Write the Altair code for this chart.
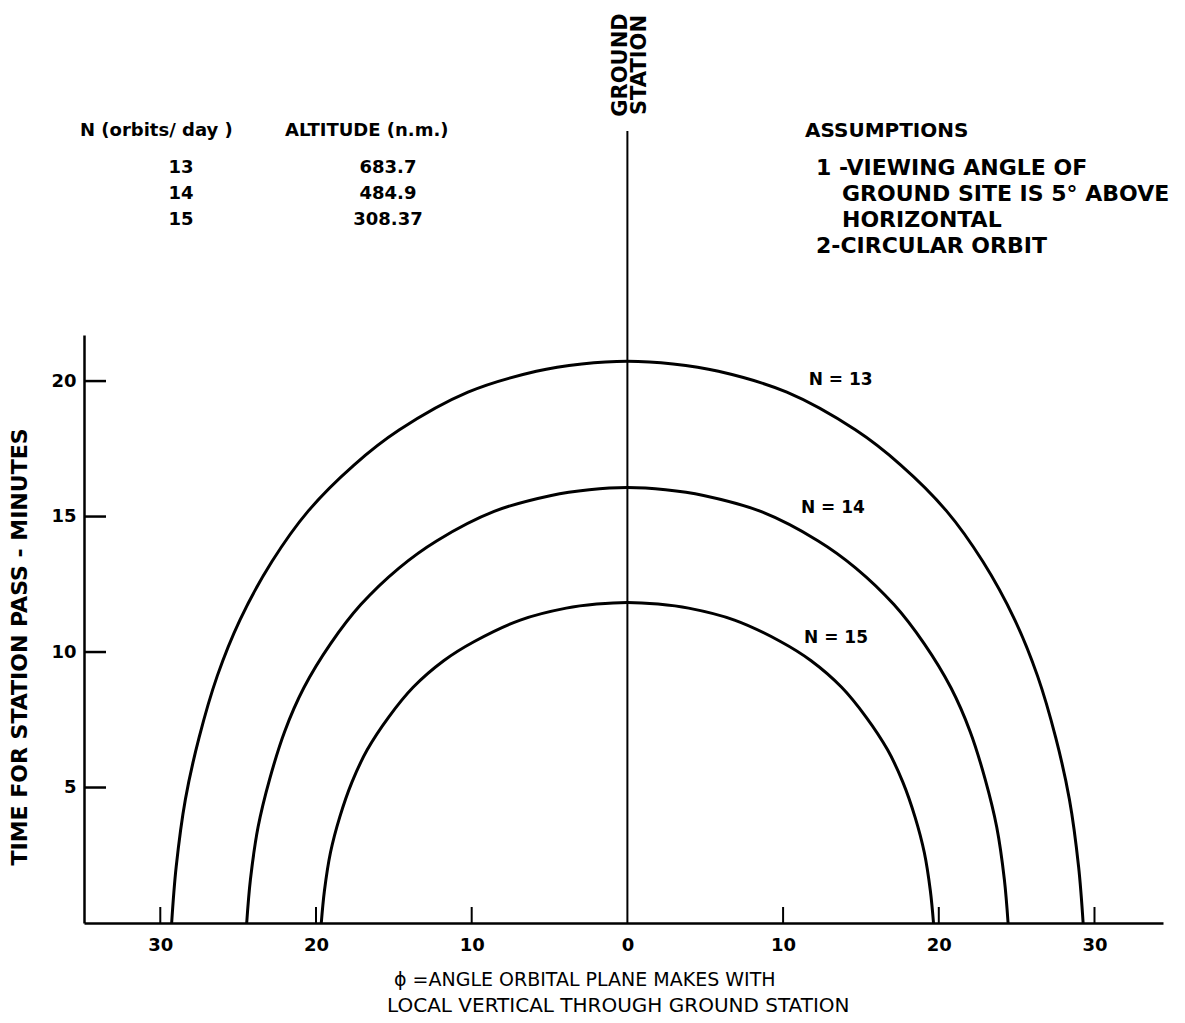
import altair as alt
import pandas as pd

# ---- data (phi in degrees, time in minutes) ----
n13_x = [-29.27, -28.98, -28.39, -27.51, -26.34, -24.88, -22.83, -20.49, -17.56, -14.64, -10.24, -5.85, -2.93, 0,
         2.93, 5.85, 10.24, 14.64, 17.56, 20.49, 22.83, 24.88, 26.34, 27.51, 28.39, 28.98, 29.27]
n13_y = [0, 2.07, 4.56, 6.84, 9.12, 11.19, 13.34, 15.21, 16.9, 18.2, 19.59, 20.36, 20.63, 20.73,
         20.63, 20.36, 19.59, 18.2, 16.9, 15.21, 13.34, 11.19, 9.12, 6.84, 4.56, 2.07, 0]

n14_x = [-24.45, -24.21, -23.72, -22.98, -22.01, -20.78, -19.07, -17.12, -14.67, -12.23, -8.56, -4.89, -2.45, 0,
         2.45, 4.89, 8.56, 12.23, 14.67, 17.12, 19.07, 20.78, 22.01, 22.98, 23.72, 24.21, 24.45]
n14_y = [0, 1.61, 3.54, 5.3, 7.07, 8.68, 10.3, 11.75, 13.1, 14.11, 15.19, 15.78, 15.99, 16.07,
         15.99, 15.78, 15.19, 14.11, 13.1, 11.75, 10.3, 8.68, 7.07, 5.3, 3.54, 1.61, 0]

n15_x = [-19.66, -19.46, -19.07, -18.48, -17.69, -16.71, -15.33, -13.76, -11.8, -9.83, -6.88, -3.93, -1.97, 0,
         1.97, 3.93, 6.88, 9.83, 11.8, 13.76, 15.33, 16.71, 17.69, 18.48, 19.07, 19.46, 19.66]
n15_y = [0, 1.18, 2.6, 3.9, 5.2, 6.39, 7.6, 8.7, 9.68, 10.39, 11.18, 11.62, 11.77, 11.83,
         11.77, 11.62, 11.18, 10.39, 9.68, 8.7, 7.6, 6.39, 5.2, 3.9, 2.6, 1.18, 0]

x_ticks = [-30, -20, -10, 10, 20, 30]
x_labels = [-30, -20, -10, 0, 10, 20, 30]
y_ticks = [5, 10, 15, 20]

curve_labels = ["N = 13", "N = 14", "N = 15"]
curve_label_x = [13.7, 13.2, 13.4]
curve_label_y = [20.05, 15.3, 10.5]

table_n = ["13", "14", "15"]
table_alt = ["683.7", "484.9", "308.37"]
assumptions = ["1 -VIEWING ANGLE OF", "GROUND SITE IS 5\u00b0 ABOVE", "HORIZONTAL", "2-CIRCULAR ORBIT"]

# ---- layout ----
W, H = 1079, 588
PL, PT = 84, 335
FONT = "DejaVu Sans"

rows = []
for name, xs, ys in [("13", n13_x, n13_y), ("14", n14_x, n14_y), ("15", n15_x, n15_y)]:
    for i, (a, b) in enumerate(zip(xs, ys)):
        rows.append({"series": name, "i": i, "x": a, "y": b})
curves_df = pd.DataFrame(rows)

xscale = alt.Scale(domain=[-34.9, 34.4], nice=False, zero=False)
yscale = alt.Scale(domain=[0, 21.7], nice=False)

curves = alt.Chart(curves_df).mark_line(color="black", strokeWidth=3, interpolate="catmull-rom").encode(
    x=alt.X("x:Q", scale=xscale, axis=alt.Axis(
        values=x_labels, labelExpr="abs(datum.value)", ticks=False, grid=False,
        domainColor="black", domainWidth=2.5, labelFont=FONT, labelFontSize=18,
        labelFontWeight="bold", labelColor="black", labelPadding=13, title=None)),
    y=alt.Y("y:Q", scale=yscale, axis=alt.Axis(
        values=y_ticks, ticks=False, grid=False, domainColor="black", domainWidth=2.5,
        labelFont=FONT, labelFontSize=18, labelFontWeight="bold", labelColor="black",
        labelPadding=8, title=None)),
    detail="series:N",
    order="i:Q",
)

ytick_rules = alt.Chart(pd.DataFrame({"v": y_ticks})).mark_rule(color="black", strokeWidth=2.5).encode(
    y=alt.Y("v:Q", scale=yscale), x=alt.value(0), x2=alt.value(22))

xtick_rules = alt.Chart(pd.DataFrame({"v": x_ticks})).mark_rule(color="black", strokeWidth=2).encode(
    x=alt.X("v:Q", scale=xscale), y=alt.value(H), y2=alt.value(H - 16))

station = alt.Chart(pd.DataFrame({"v": [0]})).mark_rule(color="black", strokeWidth=2).encode(
    x=alt.X("v:Q", scale=xscale), y=alt.value(131 - PT), y2=alt.value(H))

clabels = alt.Chart(pd.DataFrame({"t": curve_labels, "x": curve_label_x, "y": curve_label_y})).mark_text(
    font=FONT, fontSize=17, fontWeight="bold", color="black", align="center", baseline="middle").encode(
    x=alt.X("x:Q", scale=xscale), y=alt.Y("y:Q", scale=yscale), text="t:N")


def txt(s, px, py, align="left", angle=0, size=19, weight="normal"):
    kw = dict(font=FONT, fontSize=size, color="black", align=align, baseline="middle", fontWeight=weight)
    if angle:
        kw["angle"] = angle
    return alt.Chart(pd.DataFrame({"t": [s]})).mark_text(**kw).encode(
        text="t:N", x=alt.value(px - PL), y=alt.value(py - PT))


texts = [
    txt("N (orbits/ day )", 80, 131, size=18, weight="bold"),
    txt("ALTITUDE (n.m.)", 285, 131, size=18, weight="bold"),
    txt("ASSUMPTIONS", 805, 131, size=20, weight="bold"),
    txt("GROUND", 621, 65, align="center", angle=270, size=21, weight="bold"),
    txt("STATION", 640, 65, align="center", angle=270, size=21, weight="bold"),
    txt("TIME FOR STATION PASS - MINUTES", 20, 647, align="center", angle=270, size=22, weight="bold"),
    txt("\u03d5 =ANGLE ORBITAL PLANE MAKES WITH", 394, 980, size=19),
    txt("LOCAL VERTICAL THROUGH GROUND STATION", 387, 1006, size=20),
]
row_y = [168, 194, 220]
for n, a, yy in zip(table_n, table_alt, row_y):
    texts.append(txt(n, 181, yy, align="center", size=18, weight="bold"))
    texts.append(txt(a, 388, yy, align="center", size=18, weight="bold"))
ass_x = [816, 842, 842, 816]
ass_y = [168, 194, 220, 246]
for s, ax, ay in zip(assumptions, ass_x, ass_y):
    texts.append(txt(s, ax, ay, size=22, weight="bold"))

chart = alt.layer(curves, ytick_rules, xtick_rules, station, clabels, *texts).properties(
    width=W, height=H,
    padding={"left": PL, "top": PT, "right": 1185 - PL - W, "bottom": 1023 - PT - H},
    autosize=alt.AutoSizeParams(type="none"),
    background="white",
).configure_view(stroke=None)

chart.save("out.html", embed_options={"renderer": "svg", "actions": False})
